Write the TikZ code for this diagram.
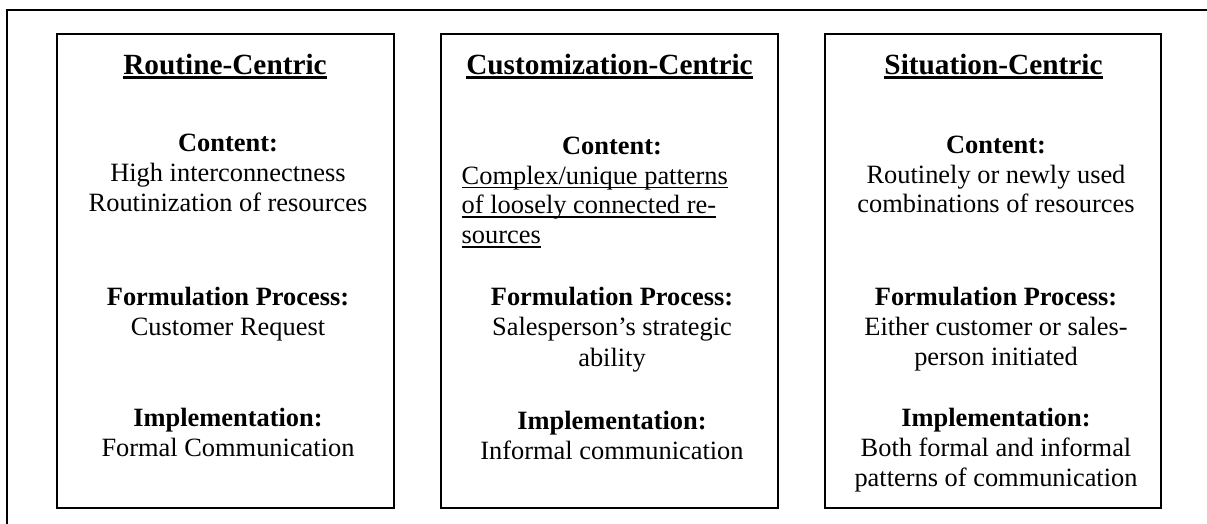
\documentclass[tikz,border=0pt]{standalone}
\usepackage{fontspec}
\setmainfont{Liberation Serif}
\tikzset{
  frame/.style={draw=black, line width=2pt},
  boxframe/.style={draw=black, line width=2.2pt},
  txt/.style={inner sep=0pt, outer sep=0pt, anchor=base, font=\fontsize{26.4}{30}\selectfont},
  txtl/.style={txt, anchor=base west},
  bold/.style={txt, font=\fontsize{26.4}{30}\selectfont\bfseries},
  head/.style={inner sep=0pt, outer sep=0pt, anchor=base, font=\fontsize{29.3}{33}\selectfont\bfseries},
  headline/.style={line width=2.8pt},
  bodyline/.style={line width=1.6pt}
}
\begin{document}
\begin{tikzpicture}[x=1pt,y=-1pt]
\useasboundingbox (0,0) rectangle (1207,523);
% outer frame (right and bottom edges lie outside the picture)
\coordinate (oBL) at (7,524);
\coordinate (oTL) at (7,10);
\coordinate (oTR) at (1208,10);
\draw[frame] (oBL) -- (oTL) -- (oTR);
% boxes
\draw[boxframe] (57,34) rectangle (394,508);
\draw[boxframe] (441,34) rectangle (778,508);
\draw[boxframe] (825,34) rectangle (1161,508);

% column 1
\node[head] (h1) at (225,74) {Routine-Centric};
\draw[headline] ([yshift=-3.6pt]h1.base west) -- ([yshift=-3.6pt]h1.base east);
\node[bold] (c1) at (228,151) {Content:};
\node[txt] (c1a) at (228,181) {High interconnectness};
\node[txt] (c1b) at (228,211.5) {Routinization of resources};
\node[bold] (f1) at (228,305) {Formulation Process:};
\node[txt] (f1a) at (228,335) {Customer Request};
\node[bold] (i1) at (228,426.5) {Implementation:};
\node[txt] (i1a) at (228,456.5) {Formal Communication};

% column 2
\node[head] (h2) at (609.5,74) {Customization-Centric};
\draw[headline] ([yshift=-3.6pt]h2.base west) -- ([yshift=-3.6pt]h2.base east);
\node[bold] (c2) at (612,154) {Content:};
\node[txtl] (c2a) at (461.7,184) {Complex/unique patterns};
\node[txtl] (c2b) at (461.7,213.5) {of loosely connected re-};
\node[txtl] (c2c) at (461.7,243.5) {sources};
\draw[bodyline] ([yshift=-3.6pt]c2a.base west) -- ([yshift=-3.6pt]c2a.base east);
\draw[bodyline] ([yshift=-3.6pt]c2b.base west) -- ([yshift=-3.6pt]c2b.base east);
\draw[bodyline] ([yshift=-3.6pt]c2c.base west) -- ([yshift=-3.6pt]c2c.base east);
\node[bold] (f2) at (612,305.5) {Formulation Process:};
\node[txt] (f2a) at (612,335.5) {Salesperson’s strategic};
\node[txt] (f2b) at (612,366) {ability};
\node[bold] (i2) at (612,429.5) {Implementation:};
\node[txt] (i2a) at (612,459) {Informal communication};

% column 3
\node[head] (h3) at (993.5,74) {Situation-Centric};
\draw[headline] ([yshift=-3.6pt]h3.base west) -- ([yshift=-3.6pt]h3.base east);
\node[bold] (c3) at (996,153) {Content:};
\node[txt] (c3a) at (996,183) {Routinely or newly used};
\node[txt] (c3b) at (996,212.5) {combinations of resources};
\node[bold] (f3) at (996,305) {Formulation Process:};
\node[txt] (f3a) at (996,335) {Either customer or sales-};
\node[txt] (f3b) at (996,365) {person initiated};
\node[bold] (i3) at (996,426.5) {Implementation:};
\node[txt] (i3a) at (996,456.5) {Both formal and informal};
\node[txt] (i3b) at (996,486.5) {patterns of communication};
\end{tikzpicture}
\end{document}
